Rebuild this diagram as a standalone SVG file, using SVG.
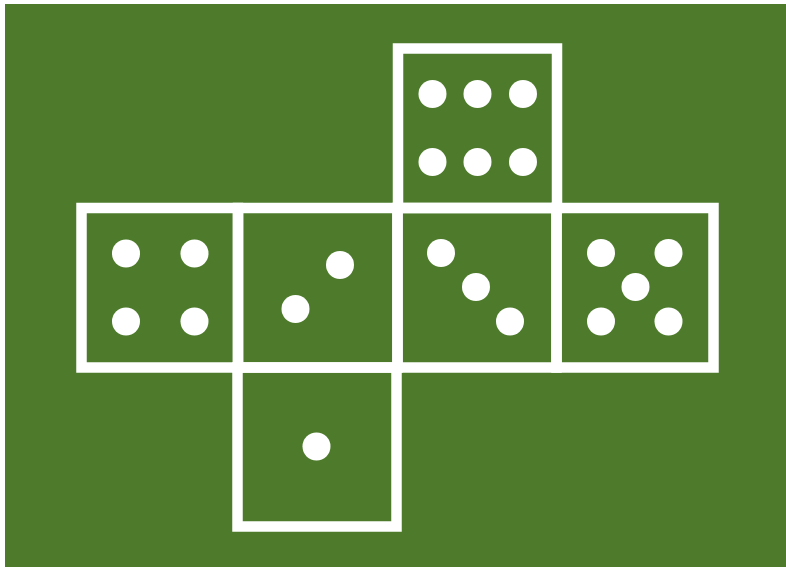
<svg xmlns="http://www.w3.org/2000/svg" width="786" height="567" viewBox="0 0 786 567">
<style>
.face{fill:none;stroke:#ffffff;stroke-width:10.5}
.pip{fill:#ffffff}
</style>
<rect x="0" y="0" width="786" height="567" fill="#ffffff"/>
<rect x="5" y="4" width="781" height="563" fill="#4d7b2b"/>
<g id="face-six">
<rect class="face" x="398" y="48.5" width="159" height="159.5"/>
<circle class="pip" cx="432.5" cy="94" r="14"/>
<circle class="pip" cx="477.5" cy="94" r="14"/>
<circle class="pip" cx="523" cy="94" r="14"/>
<circle class="pip" cx="432.5" cy="162" r="14"/>
<circle class="pip" cx="477.5" cy="162" r="14"/>
<circle class="pip" cx="523" cy="162" r="14"/>
</g>
<g id="face-four">
<rect class="face" x="81.5" y="208" width="156.5" height="159.5"/>
<circle class="pip" cx="126" cy="253.5" r="14"/>
<circle class="pip" cx="194.5" cy="253.5" r="14"/>
<circle class="pip" cx="126" cy="321.5" r="14"/>
<circle class="pip" cx="194.5" cy="321.5" r="14"/>
</g>
<g id="face-two">
<rect class="face" x="238" y="208" width="159.5" height="159.5"/>
<circle class="pip" cx="340" cy="265" r="14"/>
<circle class="pip" cx="295.5" cy="309" r="14"/>
</g>
<g id="face-three">
<rect class="face" x="397.5" y="208" width="159" height="159.5"/>
<circle class="pip" cx="441" cy="253" r="14"/>
<circle class="pip" cx="476" cy="287" r="14"/>
<circle class="pip" cx="510" cy="321.5" r="14"/>
</g>
<g id="face-five">
<rect class="face" x="556.5" y="208" width="157" height="159.5"/>
<circle class="pip" cx="601" cy="253" r="14"/>
<circle class="pip" cx="668.5" cy="253" r="14"/>
<circle class="pip" cx="635.5" cy="287" r="14"/>
<circle class="pip" cx="601" cy="321.5" r="14"/>
<circle class="pip" cx="668.5" cy="321.5" r="14"/>
</g>
<g id="face-one">
<rect class="face" x="237.5" y="367.5" width="159" height="159"/>
<circle class="pip" cx="316.5" cy="446.5" r="14"/>
</g>
<g id="connectors"></g>
</svg>
